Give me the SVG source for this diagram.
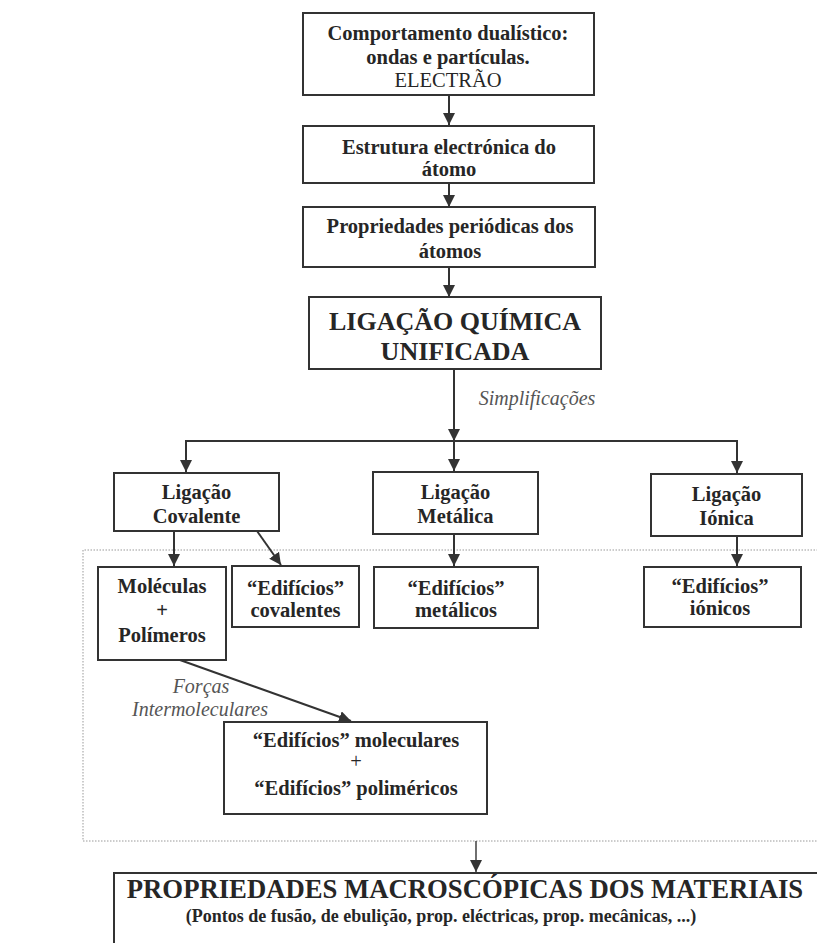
<svg xmlns="http://www.w3.org/2000/svg" width="817" height="943" viewBox="0 0 817 943">
<defs>
<marker id="ah" markerUnits="userSpaceOnUse" markerWidth="13" markerHeight="13" refX="12" refY="6" orient="auto">
<path d="M0,0 L12,6 L0,12 z" fill="#333"/>
</marker>
<style>
.box{fill:none;stroke:#333;stroke-width:2}
.t{font-family:"Liberation Serif","Times New Roman",serif;font-weight:bold;font-size:20.5px;fill:#262626;text-anchor:middle}
.n{font-weight:normal}
.big{font-size:26px}
.big2{font-size:26.7px}
.sub{font-size:18px}
.it{font-family:"Liberation Serif","Times New Roman",serif;font-style:italic;font-size:20px;fill:#555;text-anchor:middle}
.c{fill:none;stroke:#333;stroke-width:2}
.thin{stroke-width:1.4}
.dot{fill:none;stroke:#999;stroke-width:1;stroke-dasharray:1.5,1.5}
</style>
</defs>
<rect width="817" height="943" fill="#fff"/>
<path class="dot" d="M830,550 H83 V841 H830"/>
<g id="n1"><rect class="box" x="303" y="13" width="291" height="82"/>
<text class="t" x="448" y="40">Comportamento dualístico:</text>
<text class="t" x="448" y="64">ondas e partículas.</text>
<text class="t n" x="448" y="87">ELECTRÃO</text></g>
<g id="n2"><rect class="box" x="303" y="126" width="291" height="57"/>
<text class="t" x="449" y="154">Estrutura electrónica do</text>
<text class="t" x="449" y="176">átomo</text></g>
<g id="n3"><rect class="box" x="303" y="207" width="292" height="60"/>
<text class="t" x="450" y="233">Propriedades periódicas dos</text>
<text class="t" x="450" y="258">átomos</text></g>
<g id="n4"><rect class="box" x="309" y="297" width="292" height="72"/>
<text class="t big" x="455" y="330">LIGAÇÃO QUÍMICA</text>
<text class="t big" x="455" y="360">UNIFICADA</text></g>
<g id="n5"><rect class="box" x="114" y="473" width="165" height="58"/>
<text class="t" x="196.5" y="499">Ligação</text>
<text class="t" x="196.5" y="523">Covalente</text></g>
<g id="n6"><rect class="box" x="373" y="472" width="165" height="62"/>
<text class="t" x="455.5" y="499">Ligação</text>
<text class="t" x="455.5" y="523">Metálica</text></g>
<g id="n7"><rect class="box" x="651" y="474" width="151" height="62"/>
<text class="t" x="726.5" y="501">Ligação</text>
<text class="t" x="726.5" y="525">Iónica</text></g>
<g id="n8"><rect class="box" x="98" y="567" width="128" height="93"/>
<text class="t" x="162" y="593">Moléculas</text>
<text class="t" x="162" y="617">+</text>
<text class="t" x="162" y="642">Polímeros</text></g>
<g id="n9"><rect class="box" x="232" y="566" width="127" height="61"/>
<text class="t" x="295.5" y="595">“Edifícios”</text>
<text class="t" x="295.5" y="617">covalentes</text></g>
<g id="n10"><rect class="box" x="374" y="567" width="164" height="61"/>
<text class="t" x="456" y="595">“Edifícios”</text>
<text class="t" x="456" y="617">metálicos</text></g>
<g id="n11"><rect class="box" x="644" y="567" width="157" height="60"/>
<text class="t" x="720" y="593">“Edifícios”</text>
<text class="t" x="720" y="615">iónicos</text></g>
<g id="n12"><rect class="box" x="224" y="722" width="263" height="92"/>
<text class="t" x="356" y="747">“Edifícios” moleculares</text>
<text class="t n" x="356" y="768">+</text>
<text class="t" x="356" y="795">“Edifícios” poliméricos</text></g>
<g id="n13"><path class="box" d="M114,950 V873 H830"/>
<text class="t big2" x="465" y="898">PROPRIEDADES MACROSCÓPICAS DOS MATERIAIS</text>
<text class="t sub" x="441" y="922">(Pontos de fusão, de ebulição, prop. eléctricas, prop. mecânicas, ...)</text></g>
<g id="labels">
<text class="it" x="537" y="405">Simplificações</text>
<text class="it" x="201" y="693">Forças</text>
<text class="it" x="200" y="716">Intermoleculares</text>
</g>
<g id="connectors">
<line class="c" x1="449" y1="95" x2="449" y2="125" marker-end="url(#ah)"/>
<line class="c" x1="449" y1="183" x2="449" y2="207" marker-end="url(#ah)"/>
<line class="c" x1="449" y1="267" x2="449" y2="297" marker-end="url(#ah)"/>
<line class="c" x1="454" y1="369" x2="454" y2="441" marker-end="url(#ah)"/>
<line class="c" x1="186" y1="441" x2="737" y2="441"/>
<line class="c" x1="186" y1="440" x2="186" y2="472" marker-end="url(#ah)"/>
<line class="c" x1="454" y1="441" x2="454" y2="471" marker-end="url(#ah)"/>
<line class="c" x1="737" y1="440" x2="737" y2="473" marker-end="url(#ah)"/>
<line class="c" x1="174" y1="531" x2="174" y2="566" marker-end="url(#ah)"/>
<line class="c" x1="257" y1="531" x2="281" y2="565" marker-end="url(#ah)"/>
<line class="c" x1="454" y1="534" x2="454" y2="566" marker-end="url(#ah)"/>
<line class="c" x1="737" y1="536" x2="737" y2="566" marker-end="url(#ah)"/>
<line class="c" x1="180" y1="660" x2="351" y2="721" marker-end="url(#ah)"/>
<line class="c thin" x1="476" y1="841" x2="476" y2="872" marker-end="url(#ah)"/>
</g>
</svg>
